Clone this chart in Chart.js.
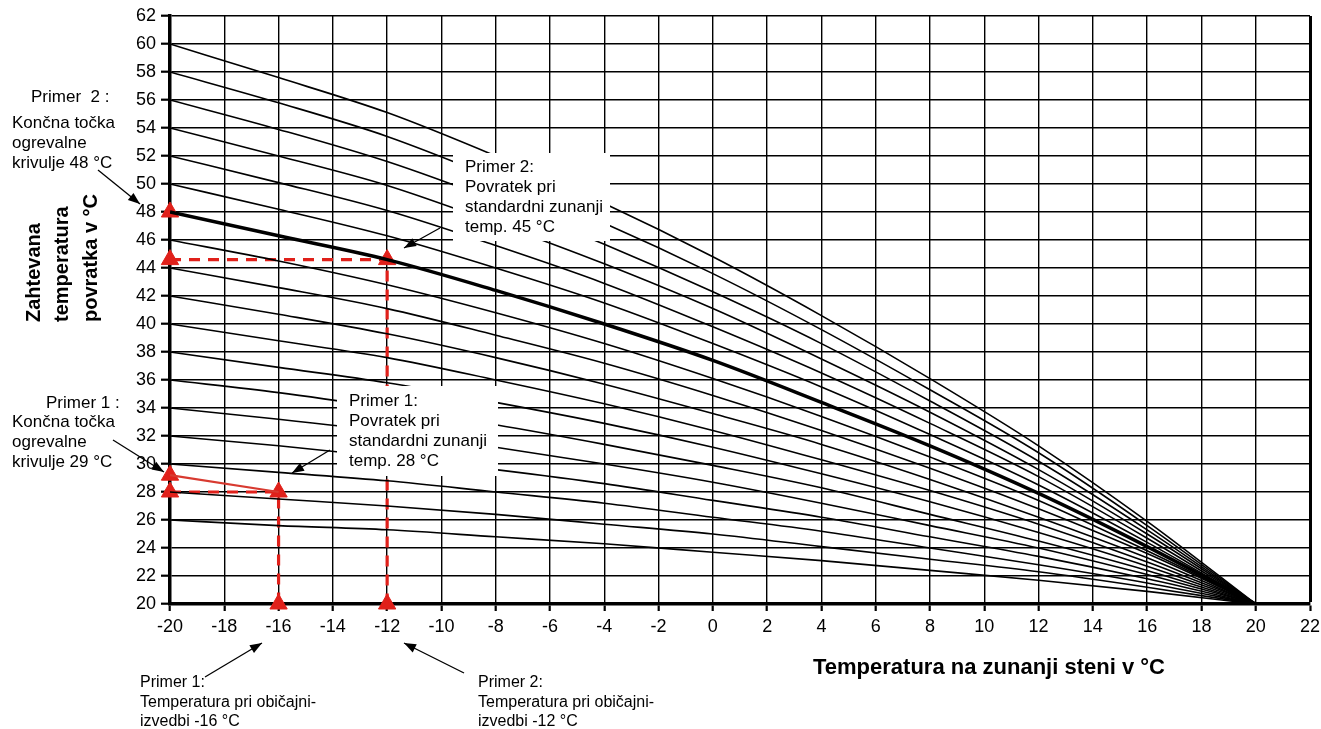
<!DOCTYPE html>
<html><head><meta charset="utf-8">
<script src="https://cdn.jsdelivr.net/npm/chart.js@4.4.0/dist/chart.umd.min.js"></script>
<style>html,body{margin:0;padding:0;background:#fff;overflow:hidden}#wrap{width:1321px;height:729px;position:relative}</style>
</head><body><div id="wrap"><canvas id="c" width="1321" height="729"></canvas></div>
<script>
// ---- data ----
const outdoorTemps = [-20, -16, -12, -8, -4, 0, 4, 8, 12, 16, 20];
const curve26 = [26, 25.6, 25.3, 24.8, 24.3, 23.7, 23.1, 22.4, 21.7, 20.9, 20];
const curve28 = [28, 27.5, 27.0, 26.4, 25.7, 25.0, 24.1, 23.2, 22.3, 21.2, 20];
const curve30 = [30, 29.4, 28.8, 28.0, 27.2, 26.2, 25.2, 24.0, 22.8, 21.5, 20];
const curve32 = [32, 31.3, 30.5, 29.6, 28.6, 27.4, 26.2, 24.8, 23.4, 21.8, 20];
const curve34 = [34, 33.2, 32.3, 31.2, 30.0, 28.7, 27.2, 25.6, 24.0, 22.1, 20];
const curve36 = [36, 35.1, 34.0, 32.8, 31.4, 29.9, 28.3, 26.4, 24.5, 22.4, 20];
const curve38 = [38, 36.9, 35.8, 34.4, 32.9, 31.2, 29.3, 27.3, 25.1, 22.7, 20];
const curve40 = [40, 38.8, 37.6, 36.0, 34.3, 32.4, 30.3, 28.1, 25.7, 23.0, 20];
const curve42 = [42, 40.7, 39.3, 37.6, 35.7, 33.6, 31.4, 28.9, 26.2, 23.3, 20];
const curve44 = [44, 42.6, 41.1, 39.2, 37.2, 34.9, 32.4, 29.7, 26.8, 23.6, 20];
const curve46 = [46, 44.5, 42.8, 40.8, 38.6, 36.1, 33.4, 30.5, 27.4, 23.8, 20];
const curve48 = [48, 46.3, 44.6, 42.4, 40.0, 37.4, 34.4, 31.3, 27.9, 24.1, 20];
const curve50 = [50, 48.2, 46.3, 44.0, 41.5, 38.6, 35.5, 32.1, 28.5, 24.4, 20];
const curve52 = [52, 50.1, 48.1, 45.6, 42.9, 39.8, 36.5, 32.9, 29.1, 24.7, 20];
const curve54 = [54, 52.0, 49.9, 47.2, 44.3, 41.1, 37.5, 33.7, 29.6, 25.0, 20];
const curve56 = [56, 53.9, 51.6, 48.8, 45.7, 42.3, 38.6, 34.5, 30.2, 25.3, 20];
const curve58 = [58, 55.8, 53.4, 50.4, 47.2, 43.6, 39.6, 35.3, 30.8, 25.6, 20];
const curve60 = [60, 57.6, 55.1, 52.0, 48.6, 44.8, 40.6, 36.1, 31.3, 25.9, 20];
const curveList = [curve26, curve28, curve30, curve32, curve34, curve36, curve38, curve40, curve42,
                   curve44, curve46, curve48, curve50, curve52, curve54, curve56, curve58, curve60];
const highlightedCurve = curve48;

const markerX = [-20, -20, -12, -12, -16, -16, -20, -20];
const markerY = [48, 44.6, 44.6, 20, 20, 28, 28, 29.2];
const guide2X = [-20, -12, -12];
const guide2Y = [44.6, 44.6, 20];
const guide1X = [-20, -16, -16];
const guide1Y = [28, 28, 20];
const endLine1X = [-20, -16];
const endLine1Y = [29.2, 28];

const xMin = -20, xMax = 22, xStep = 2;
const yMin = 20, yMax = 62, yStep = 2;

const FONT = '"Liberation Sans", Arial, sans-serif';
const RED = '#e0201a';
const pts = (xs, ys) => xs.map((x, i) => ({x: x, y: ys[i]}));

const datasets = curveList.map(c => ({
  data: pts(outdoorTemps, c),
  borderColor: '#000',
  borderWidth: c === highlightedCurve ? 3.5 : 1.6,
  pointRadius: 0,
  cubicInterpolationMode: 'monotone',
  fill: false
}));
datasets.push({data: pts(endLine1X, endLine1Y), borderColor: '#d83a30', borderWidth: 2.2, pointRadius: 0, clip: false});
datasets.push({data: pts(guide2X, guide2Y), borderColor: RED, borderWidth: 3.2, borderDash: [11, 8], pointRadius: 0, clip: false});
datasets.push({data: pts(guide1X, guide1Y), borderColor: RED, borderWidth: 3.2, borderDash: [11, 8], pointRadius: 0, clip: false});
datasets.push({data: pts(markerX, markerY), showLine: false, pointStyle: 'triangle', pointRadius: 10,
  pointBackgroundColor: RED, pointBorderColor: RED, pointBorderWidth: 1, clip: false});

function arrow(ctx, x1, y1, x2, y2) {
  ctx.save();
  ctx.strokeStyle = '#000'; ctx.fillStyle = '#000'; ctx.lineWidth = 1.3;
  ctx.beginPath(); ctx.moveTo(x1, y1); ctx.lineTo(x2, y2); ctx.stroke();
  const a = Math.atan2(y2 - y1, x2 - x1), L = 12, W = 4.5;
  ctx.beginPath();
  ctx.moveTo(x2, y2);
  ctx.lineTo(x2 - L * Math.cos(a) + W * Math.sin(a), y2 - L * Math.sin(a) - W * Math.cos(a));
  ctx.lineTo(x2 - L * Math.cos(a) - W * Math.sin(a), y2 - L * Math.sin(a) + W * Math.cos(a));
  ctx.closePath(); ctx.fill();
  ctx.restore();
}
function lines(ctx, arr, x, y0, dy) {
  arr.forEach((t, i) => ctx.fillText(t, x, y0 + i * dy));
}

const annot = {
  id: 'annot',
  afterDatasetsDraw(chart) {
    const ctx = chart.ctx;
    ctx.save();
    ctx.fillStyle = '#fff';
    ctx.fillRect(453, 153, 157, 88);
    ctx.fillRect(337, 386, 161, 90);
    ctx.fillStyle = '#000';
    ctx.textBaseline = 'middle';
    ctx.textAlign = 'left';
    ctx.font = '17px ' + FONT;
    lines(ctx, ['Primer 2:', 'Povratek pri', 'standardni zunanji', 'temp. 45 °C'], 465, 167, 20.2);
    lines(ctx, ['Primer 1:', 'Povratek pri', 'standardni zunanji', 'temp. 28 °C'], 349, 401, 20.2);
    ctx.fillText('Primer  2 :', 31, 97);
    lines(ctx, ['Končna točka', 'ogrevalne', 'krivulje 48 °C'], 12, 123, 20);
    ctx.fillText('Primer 1 :', 46, 403);
    lines(ctx, ['Končna točka', 'ogrevalne', 'krivulje 29 °C'], 12, 422, 20);
    ctx.font = '16px ' + FONT;
    lines(ctx, ['Primer 1:', 'Temperatura pri običajni-', 'izvedbi -16 °C'], 140, 683, 19.5);
    lines(ctx, ['Primer 2:', 'Temperatura pri običajni-', 'izvedbi -12 °C'], 478, 683, 19.5);
    // axis titles
    ctx.font = 'bold 22px ' + FONT;
    ctx.fillText('Temperatura na zunanji steni v °C', 813, 668);
    ctx.font = 'bold 20px ' + FONT;
    [['Zahtevana', 34], ['temperatura', 62.5], ['povratka v °C', 91]].forEach(([t, x]) => {
      ctx.save(); ctx.translate(x, 322); ctx.rotate(-Math.PI / 2); ctx.fillText(t, 0, 0); ctx.restore();
    });
    ctx.restore();
    arrow(ctx, 98, 170, 140, 204);
    arrow(ctx, 113, 440, 164, 472);
    arrow(ctx, 330, 450, 292, 473);
    arrow(ctx, 440, 228, 404, 248);
    arrow(ctx, 205, 677, 262, 643);
    arrow(ctx, 464, 673, 404, 643);
  }
};

new Chart(document.getElementById('c'), {
  type: 'line',
  data: {datasets: datasets},
  plugins: [annot],
  options: {
    responsive: false, animation: false, devicePixelRatio: 1,
    layout: {padding: {left: 0, top: 16, right: 10, bottom: 0}},
    plugins: {legend: {display: false}, tooltip: {enabled: false}},
    scales: {
      x: {
        type: 'linear', min: xMin, max: xMax,
        ticks: {stepSize: xStep, color: '#000', font: {family: FONT, size: 18}, padding: 5, maxRotation: 0, autoSkip: false},
        grid: {color: '#000', lineWidth: c => (c.tick && c.tick.value === xMax) ? 3 : 1.4, tickLength: 7, tickWidth: 2.2},
        border: {display: true, color: '#000', width: 3.5},
        afterFit: s => { s.height = 125; s.paddingLeft = 0; s.paddingRight = 0; }
      },
      y: {
        type: 'linear', min: yMin, max: yMax,
        ticks: {stepSize: yStep, color: '#000', font: {family: FONT, size: 18}, padding: 5, autoSkip: false},
        grid: {color: '#000', lineWidth: 1.4, tickLength: 9, tickWidth: 2.2},
        border: {display: true, color: '#000', width: 3.5},
        afterFit: s => { s.width = 170; s.paddingTop = 0; s.paddingBottom = 0; }
      }
    }
  }
});
</script></body></html>
